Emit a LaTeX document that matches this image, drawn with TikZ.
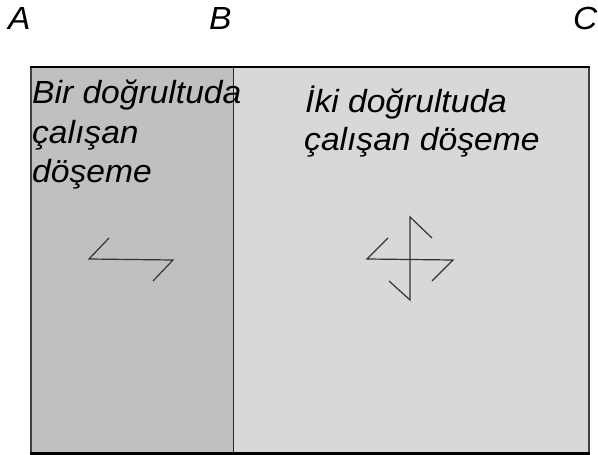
\documentclass[tikz,border=0pt]{standalone}
\usepackage{fontspec}
\setmainfont{Liberation Sans}[FakeStretch=1.05]
\begin{document}
\begin{tikzpicture}[x=1pt,y=-1pt,
  lbl/.style={inner sep=0pt,anchor=base west,font=\fontsize{32}{39}\selectfont\itshape},
  sym/.style={draw=black!80,line width=1.2pt,line join=miter}]
\useasboundingbox (0,0) rectangle (598,455);
% slabs
\fill[fill={rgb,255:red,192;green,192;blue,192}] (31,67) rectangle (233,453);
\fill[fill={rgb,255:red,216;green,216;blue,216}] (233,67) rectangle (589,453);
\draw[black!85,line width=1pt] (233,67) -- (233,453);
\draw[black!75,line width=1.6pt] (31,67) -- (31,453);
\draw[black!75,line width=1.6pt] (589,67) -- (589,453);
\draw[black,line width=2pt] (30,67) -- (590,67);
\draw[black,line width=3pt] (30,453) -- (590,453);
% labels
\node[lbl] (A) at (8,29) {A};
\node[lbl] (B) at (209,29) {B};
\node[lbl] (C) at (573,29) {C};
\node[lbl] (t1) at (32,103) {Bir doğrultuda};
\node[lbl] (t2) at (32,143) {çalışan};
\node[lbl] (t3) at (32,182) {döşeme};
\node[lbl] (t4) at (305,112) {İki doğrultuda};
\node[lbl] (t5) at (304,150) {çalışan döşeme};
% symbols
\coordinate (p1) at (109,238); \coordinate (p2) at (89,259);
\coordinate (p3) at (173,260); \coordinate (p4) at (153,281);
\draw[sym] (p1) -- (p2) -- (p3) -- (p4);
\coordinate (q1) at (388,238); \coordinate (q2) at (367,259);
\coordinate (q3) at (453,260); \coordinate (q4) at (432,281);
\draw[sym] (q1) -- (q2) -- (q3) -- (q4);
\coordinate (r1) at (432,238); \coordinate (r2) at (410,217);
\coordinate (r3) at (410,300); \coordinate (r4) at (389,281);
\draw[sym] (r1) -- (r2) -- (r3) -- (r4);
\end{tikzpicture}
\end{document}
